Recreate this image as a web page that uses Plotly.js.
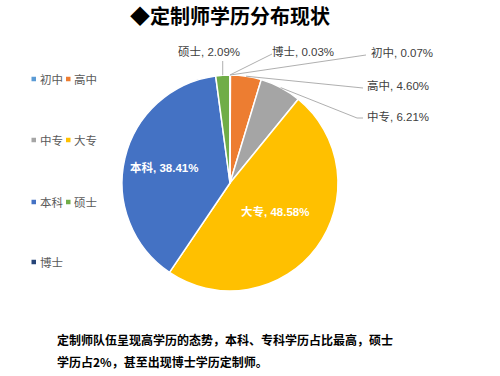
<!DOCTYPE html>
<html>
<head>
<meta charset="utf-8">
<script src="https://cdn.plot.ly/plotly-3.0.1.min.js"></script>
<style>html,body{margin:0;padding:0;background:#fff;}#chart{width:500px;height:376px;}</style>
</head>
<body>
<div id="chart"></div>
<script>
// ---- data ----
const categories = ['初中', '高中', '中专', '大专', '本科', '硕士', '博士'];
const shares = [0.07, 4.60, 6.21, 48.58, 38.41, 2.09, 0.03];
const colors = ['#5B9BD5', '#ED7D31', '#A5A5A5', '#FFC000', '#4472C4', '#70AD47', '#264478'];
const titleText = '◆定制师学历分布现状';
const noteLines = ['定制师队伍呈现高学历的态势，本科、专科学历占比最高，硕士', '学历占2%，甚至出现博士学历定制师。'];

// ---- layout constants (pixels) ----
const W = 500, H = 376;
const CX = 230, CY = 183, R = 108;
const px = x => x / W;
const py = y => 1 - y / H;

// label placement: text position and leader line points (pixels)
const labelPlacement = {
  '初中': {x: 369, y: 52, xanchor: 'left', path: [[366, 55]]},
  '高中': {x: 365, y: 86, xanchor: 'left', path: [[363, 88]]},
  '中专': {x: 365, y: 116, xanchor: 'left', path: [[357, 118], [363, 118]]},
  '大专': {x: 275, y: 211, xanchor: 'center', inside: true},
  '本科': {x: 164, y: 167, xanchor: 'center', inside: true},
  '硕士': {x: 209, y: 52, xanchor: 'center', path: [[null, 61]]},
  '博士': {x: 270, y: 52, xanchor: 'left', path: [[272, 54]]}
};
const legendCols = [31.5, 66];
const legendRows = [79, 140, 202, 262];

const total = shares.reduce((a, b) => a + b, 0);
const annotations = [];
const shapes = [];
const labelFont = 'Liberation Sans, Arial, Noto Sans CJK SC, sans-serif';

let cum = 0;
categories.forEach((cat, i) => {
  const mid = (cum + shares[i] / 2) / total;
  cum += shares[i];
  const th = 2 * Math.PI * mid;
  const ax = CX + R * Math.sin(th);
  const ay = CY - R * Math.cos(th);
  const p = labelPlacement[cat];
  const txt = cat + ', ' + shares[i].toFixed(2) + '%';
  annotations.push({
    xref: 'paper', yref: 'paper', x: px(p.x), y: py(p.y),
    xanchor: p.xanchor, yanchor: 'middle', showarrow: false,
    text: p.inside ? '<b>' + txt + '</b>' : txt,
    font: {family: labelFont, size: 11.5, color: p.inside ? '#FFFFFF' : '#404040'}
  });
  if (!p.inside) {
    let d = 'M' + px(ax) + ',' + py(ay);
    p.path.forEach(pt => {
      const x = pt[0] === null ? ax : pt[0];
      d += ' L' + px(x) + ',' + py(pt[1]);
    });
    shapes.push({type: 'path', xref: 'paper', yref: 'paper', path: d,
      line: {color: '#A6A6A6', width: 0.9}});
  }
  // legend entry
  const col = i % 2, row = Math.floor(i / 2);
  const lx = legendCols[col], ly = legendRows[row];
  shapes.push({type: 'rect', xref: 'paper', yref: 'paper',
    x0: px(lx), x1: px(lx + 4.5), y0: py(ly - 2.25), y1: py(ly + 2.25),
    fillcolor: colors[i], line: {width: 0}});
  annotations.push({xref: 'paper', yref: 'paper', x: px(lx + 6), y: py(ly),
    xanchor: 'left', yanchor: 'middle', showarrow: false, text: cat,
    font: {family: 'Noto Sans CJK SC, sans-serif', size: 11.5, color: '#595959'}});
});

noteLines.forEach((line, k) => {
  annotations.push({xref: 'paper', yref: 'paper', x: px(55), y: py(339 + 22 * k),
    xanchor: 'left', yanchor: 'middle', showarrow: false, text: '<b>' + line + '</b>',
    font: {family: 'Noto Sans CJK SC, sans-serif', size: 12, color: '#000000'}});
});

const trace = {
  type: 'pie',
  labels: categories,
  values: shares,
  sort: false,
  direction: 'clockwise',
  rotation: 0,
  textinfo: 'none',
  hoverinfo: 'label+percent',
  marker: {colors: colors, line: {color: '#FFFFFF', width: 1.5}},
  domain: {x: [px(CX - R), px(CX + R)], y: [py(CY + R), py(CY - R)]},
  showlegend: false
};

const layout = {
  width: W, height: H,
  margin: {l: 0, r: 0, t: 0, b: 0},
  paper_bgcolor: '#FFFFFF',
  title: {text: '<b>' + titleText + '</b>', x: px(230), xanchor: 'center', y: py(17), yanchor: 'middle',
    font: {family: 'Noto Sans CJK SC, sans-serif', size: 20, color: '#000000'}},
  showlegend: false,
  annotations: annotations,
  shapes: shapes
};

Plotly.newPlot('chart', [trace], layout, {displayModeBar: false, staticPlot: true});
</script>
</body>
</html>
